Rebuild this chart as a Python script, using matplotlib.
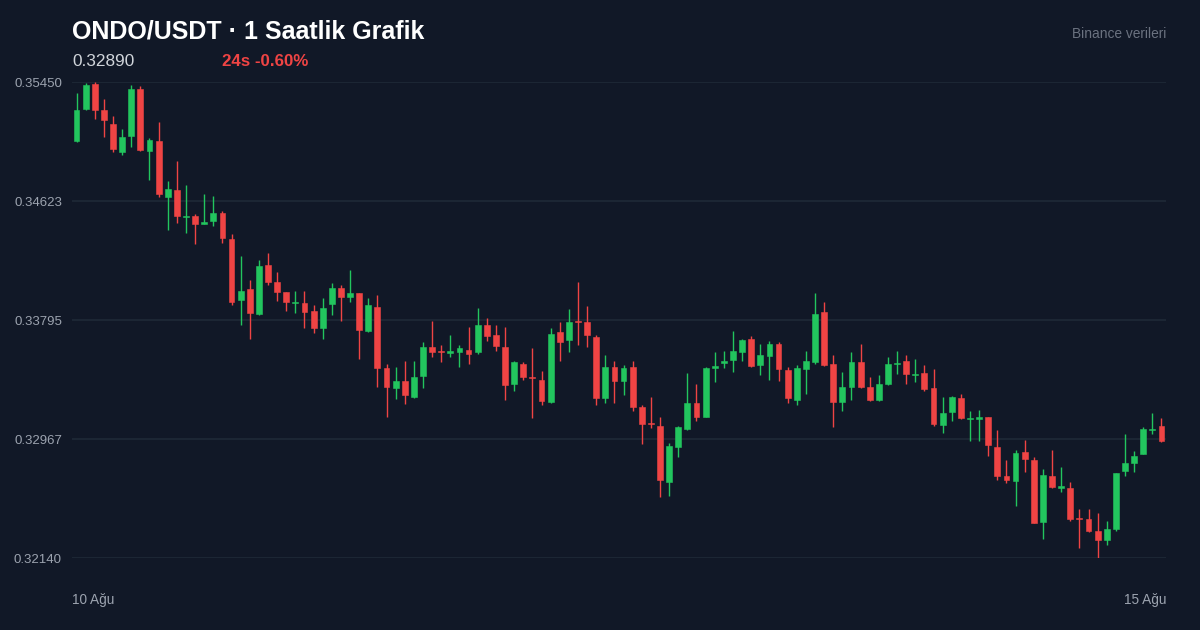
import matplotlib
matplotlib.use('Agg')
import matplotlib.pyplot as plt

plt.rcParams['font.family'] = ['Liberation Sans', 'DejaVu Sans']

opens = [0.35040, 0.35262, 0.35436, 0.35255, 0.35158, 0.34964, 0.35075, 0.35401, 0.34971, 0.35040,
         0.34651, 0.34700, 0.34512, 0.34519, 0.34463, 0.34484, 0.34540, 0.34359, 0.33934, 0.34011,
         0.33837, 0.34178, 0.34059, 0.33990, 0.33913, 0.33913, 0.33858, 0.33739, 0.33906, 0.34018,
         0.33955, 0.33983, 0.33718, 0.33885, 0.33461, 0.33322, 0.33370, 0.33259, 0.33406, 0.33607,
         0.33577, 0.33569, 0.33573, 0.33586, 0.33573, 0.33760, 0.33691, 0.33607, 0.33350, 0.33489,
         0.33398, 0.33378, 0.33224, 0.33712, 0.33656, 0.33787, 0.33781, 0.33677, 0.33252, 0.33468,
         0.33370, 0.33468, 0.33190, 0.33076, 0.33057, 0.32668, 0.32911, 0.33037, 0.33217, 0.33120,
         0.33466, 0.33500, 0.33517, 0.33573, 0.33663, 0.33482, 0.33545, 0.33628, 0.33447, 0.33238,
         0.33454, 0.33503, 0.33851, 0.33489, 0.33224, 0.33329, 0.33503, 0.33329, 0.33238, 0.33350,
         0.33488, 0.33510, 0.33412, 0.33426, 0.33322, 0.33064, 0.33155, 0.33252, 0.33108, 0.33110,
         0.33120, 0.32911, 0.32710, 0.32675, 0.32877, 0.32821, 0.32390, 0.32710, 0.32630, 0.32626,
         0.32418, 0.32411, 0.32328, 0.32265, 0.32342, 0.32745, 0.32800, 0.32863, 0.33030, 0.33057]

highs = [0.35374, 0.35443, 0.35450, 0.35332, 0.35214, 0.35123, 0.35429, 0.35422, 0.35061, 0.35172,
         0.34762, 0.34901, 0.34734, 0.34533, 0.34672, 0.34658, 0.34553, 0.34393, 0.34240, 0.34073,
         0.34212, 0.34261, 0.34129, 0.33990, 0.33997, 0.33997, 0.33899, 0.33948, 0.34052, 0.34038,
         0.34143, 0.33983, 0.33948, 0.33969, 0.33489, 0.33468, 0.33510, 0.33510, 0.33642, 0.33788,
         0.33621, 0.33691, 0.33621, 0.33746, 0.33878, 0.33809, 0.33760, 0.33746, 0.33510, 0.33503,
         0.33600, 0.33440, 0.33739, 0.33781, 0.33872, 0.34059, 0.33892, 0.33691, 0.33552, 0.33510,
         0.33482, 0.33510, 0.33203, 0.33259, 0.33120, 0.32939, 0.33057, 0.33426, 0.33350, 0.33468,
         0.33573, 0.33579, 0.33718, 0.33663, 0.33684, 0.33628, 0.33649, 0.33642, 0.33468, 0.33482,
         0.33579, 0.33983, 0.33920, 0.33552, 0.33433, 0.33573, 0.33628, 0.33399, 0.33413, 0.33538,
         0.33579, 0.33552, 0.33524, 0.33482, 0.33454, 0.33259, 0.33266, 0.33280, 0.33162, 0.33169,
         0.33120, 0.33030, 0.32821, 0.32891, 0.32960, 0.32842, 0.32758, 0.32891, 0.32772, 0.32668,
         0.32481, 0.32481, 0.32453, 0.32397, 0.32731, 0.33002, 0.32884, 0.33050, 0.33148, 0.33113]

lows = [0.35036, 0.35255, 0.35193, 0.35068, 0.34964, 0.34943, 0.34999, 0.34971, 0.34769, 0.34651,
        0.34421, 0.34470, 0.34401, 0.34324, 0.34460, 0.34449, 0.34331, 0.33899, 0.33760, 0.33663,
        0.33830, 0.34038, 0.33927, 0.33858, 0.33844, 0.33739, 0.33705, 0.33663, 0.33830, 0.33788,
        0.33920, 0.33524, 0.33712, 0.33329, 0.33120, 0.33245, 0.33210, 0.33252, 0.33322, 0.33538,
        0.33503, 0.33538, 0.33468, 0.33489, 0.33559, 0.33649, 0.33579, 0.33238, 0.33301, 0.33378,
        0.33113, 0.33203, 0.33217, 0.33510, 0.33573, 0.33621, 0.33607, 0.33203, 0.33217, 0.33217,
        0.33273, 0.33162, 0.32932, 0.33044, 0.32564, 0.32571, 0.32842, 0.33030, 0.33092, 0.33120,
        0.33363, 0.33461, 0.33433, 0.33510, 0.33468, 0.33413, 0.33378, 0.33370, 0.33217, 0.33203,
        0.33280, 0.33489, 0.33478, 0.33050, 0.33162, 0.33238, 0.33322, 0.33235, 0.33231, 0.33346,
        0.33420, 0.33350, 0.33363, 0.33301, 0.33057, 0.33009, 0.33092, 0.33110, 0.32953, 0.32953,
        0.32849, 0.32682, 0.32661, 0.32502, 0.32738, 0.32380, 0.32272, 0.32630, 0.32598, 0.32397,
        0.32210, 0.32321, 0.32140, 0.32230, 0.32328, 0.32710, 0.32738, 0.32860, 0.33002, 0.32950]

closes = [0.35255, 0.35429, 0.35255, 0.35186, 0.34985, 0.35068, 0.35401, 0.34978, 0.35047, 0.34672,
          0.34706, 0.34519, 0.34519, 0.34463, 0.34477, 0.34540, 0.34366, 0.33920, 0.33997, 0.33844,
          0.34171, 0.34059, 0.33990, 0.33920, 0.33920, 0.33851, 0.33739, 0.33878, 0.34018, 0.33955,
          0.33983, 0.33725, 0.33899, 0.33461, 0.33329, 0.33370, 0.33273, 0.33399, 0.33607, 0.33573,
          0.33571, 0.33576, 0.33600, 0.33559, 0.33760, 0.33684, 0.33614, 0.33343, 0.33503, 0.33399,
          0.33392, 0.33231, 0.33698, 0.33642, 0.33781, 0.33780, 0.33691, 0.33252, 0.33468, 0.33370,
          0.33461, 0.33190, 0.33071, 0.33070, 0.32682, 0.32918, 0.33050, 0.33217, 0.33120, 0.33461,
          0.33472, 0.33506, 0.33579, 0.33656, 0.33475, 0.33552, 0.33628, 0.33454, 0.33252, 0.33461,
          0.33510, 0.33837, 0.33482, 0.33224, 0.33329, 0.33503, 0.33329, 0.33238, 0.33350, 0.33489,
          0.33494, 0.33420, 0.33418, 0.33315, 0.33071, 0.33148, 0.33259, 0.33113, 0.33114, 0.33116,
          0.32925, 0.32710, 0.32682, 0.32870, 0.32828, 0.32383, 0.32717, 0.32633, 0.32636, 0.32411,
          0.32412, 0.32328, 0.32265, 0.32342, 0.32731, 0.32800, 0.32849, 0.33037, 0.33036, 0.32953]

y_ticks = [0.32140, 0.32967, 0.33795, 0.34623, 0.35450]
y_tick_labels = ['0.32140', '0.32967', '0.33795', '0.34623', '0.35450']
x_labels = ['10 Ağu', '15 Ağu']

title = 'ONDO/USDT · 1 Saatlik Grafik'
last_price = '0.32890'
change_text = '24s -0.60%'
source_text = 'Binance verileri'

BG = '#111827'
GREEN = '#22c55e'
RED = '#ef4444'
GRID = '#1f2a37'
TICK = '#9ca3af'

W, H = 1200, 630
fig = plt.figure(figsize=(12, 6.3), dpi=100, facecolor=BG)

def fx(px):
    return px / W

def fy(py):
    return 1 - py / H

ax = fig.add_axes([fx(72), fy(558), (1166 - 72) / W, (558 - 82) / H])
ax.set_facecolor(BG)

n = len(opens)
xs = list(range(n))
min_h = 0.00009
for i in xs:
    o, h, l, c = opens[i], highs[i], lows[i], closes[i]
    col = GREEN if c >= o else RED
    ax.vlines(i, l, h, color=col, linewidth=1.0, zorder=3)
    bottom = min(o, c)
    height = abs(c - o)
    if height < min_h:
        mid = (o + c) / 2
        bottom = mid - min_h / 2
        height = min_h
    ax.bar(i, height, bottom=bottom, width=0.64, color=col, edgecolor=col,
           linewidth=0.4, zorder=4)

ax.set_xlim(-0.5, n - 0.5)
ax.set_ylim(y_ticks[0], y_ticks[-1])
for yv in y_ticks:
    ax.axhline(yv, color=GRID, linewidth=1.2, zorder=1)

ax.set_xticks([])
ax.set_yticks([])
for s in ax.spines.values():
    s.set_visible(False)

for yv, lab in zip(y_ticks, y_tick_labels):
    ax.annotate(lab, xy=(0, yv), xycoords=('axes fraction', 'data'),
                xytext=(-10, -2), textcoords='offset pixels',
                ha='right', va='center', fontsize=9.5, color=TICK)

fig.text(fx(72), fy(600), x_labels[0], ha='left', va='center', fontsize=9.8, color=TICK)
fig.text(fx(1166), fy(600), x_labels[1], ha='right', va='center', fontsize=9.8, color=TICK)

fig.text(fx(72), fy(38.5), title, ha='left', va='baseline', fontsize=18,
         fontweight='bold', color='white')
fig.text(fx(72), fy(66), last_price, ha='left', va='baseline', fontsize=12.4,
         color='#d1d5db')
fig.text(fx(222), fy(66), change_text, ha='left', va='baseline', fontsize=12.2,
         fontweight='bold', color=RED)
fig.text(fx(1166), fy(38.3), source_text, ha='right', va='baseline', fontsize=9.9,
         color='#6b7280')

fig.savefig('out.png', dpi=100, facecolor=BG)
